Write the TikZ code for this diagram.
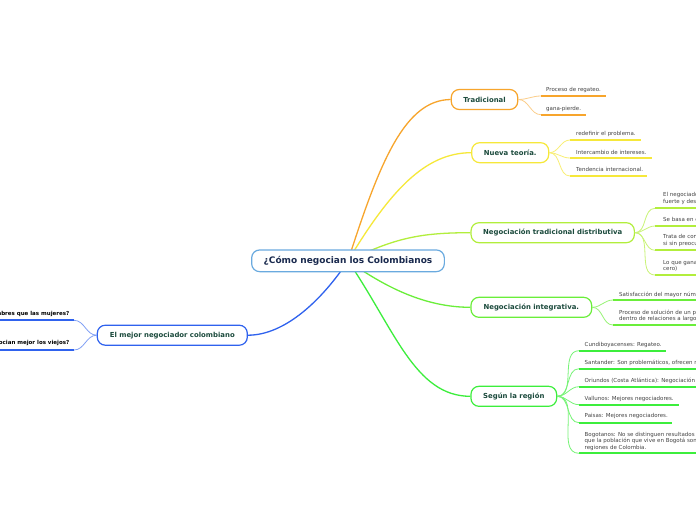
\documentclass[tikz,border=0pt]{standalone}
\usepackage{fontspec}
\setmainfont{DejaVu Sans}
\usetikzlibrary{backgrounds}
\definecolor{corange}{HTML}{F7A52C}
\definecolor{cyellow}{HTML}{F6E83A}
\definecolor{clime}{HTML}{B2EE3C}
\definecolor{cgreenA}{HTML}{6AEE3A}
\definecolor{cgreenB}{HTML}{3CEE3C}
\definecolor{cblue}{HTML}{2F62EE}
\definecolor{ccentral}{HTML}{6AAADF}
\definecolor{labelgreen}{HTML}{1B4A3C}
\definecolor{labelnavy}{HTML}{1A2A4E}
\definecolor{leafgray}{HTML}{444444}
\tikzset{
  central/.style={draw=ccentral, line width=1.2pt, rounded corners=8pt, fill=white,
    font=\bfseries\fontsize{9}{10}\selectfont, text=labelnavy, inner sep=0pt,
    minimum height=21.7pt},
  topic/.style={line width=1.2pt, rounded corners=8pt, fill=white,
    font=\bfseries\fontsize{6.9}{8}\selectfont, text=labelgreen, inner sep=0pt,
    minimum height=20pt},
  leaf/.style={font=\fontsize{5.5}{6.4}\selectfont, text=leafgray, inner sep=0pt, align=left},
  leftleaf/.style={font=\bfseries\fontsize{5.5}{6.4}\selectfont, text=black, inner sep=0pt, align=right},
  branch/.style={line width=1.3pt},
  twig/.style={line width=0.8pt},
  uline/.style={line width=1.7pt}
}
\begin{document}
\begin{tikzpicture}[x=1pt,y=-1pt]
\path[use as bounding box] (0,0) rectangle (696,520);
\clip (0,0) rectangle (696,520);

% main nodes
\node[central, minimum width=192.7pt] (c) at (348,260.8) {¿Cómo negocian los Colombianos};
\node[topic, draw=corange, minimum width=66.5pt] (t1) at (484.5,99.5) {Tradicional};
\node[topic, draw=cyellow, minimum width=77pt] (t2) at (510.2,152.7) {Nueva teoría.};
\node[topic, draw=clime, minimum width=163.3pt] (t3) at (552.7,232.7) {Negociación tradicional distributiva};
\node[topic, draw=cgreenA, minimum width=120.7pt] (t4) at (531.3,307.3) {Negociación integrativa.};
\node[topic, draw=cgreenB, minimum width=85.7pt] (t5) at (513.8,396.3) {Según la región};
\node[topic, draw=cblue, minimum width=150pt] (t6) at (172.3,335.2) {El mejor negociador colombiano};

\begin{pgfonlayer}{background}
\fill[white] (0,0) rectangle (696,520);
\draw[branch, corange] (c.center) .. controls (380,161) and (405,100) .. (t1.west);
\draw[branch, cyellow] (c.center) .. controls (390,191) and (425,152.7) .. (t2.west);
\draw[branch, clime] (c.center) .. controls (395,238) and (420,232.7) .. (t3.west);
\draw[branch, cgreenA] (c.center) .. controls (385,287) and (425,307.3) .. (t4.west);
\draw[branch, cgreenB] (c.center) .. controls (395,330) and (415,396.3) .. (t5.west);
\draw[branch, cblue] (c.center) .. controls (322,300) and (285,335.2) .. (t6.east);
\end{pgfonlayer}

% Tradicional
\coordinate (u11) at (541,96);
\coordinate (u12) at (541,114.7);
\node[leaf, anchor=west] (l11) at (546,90) {Proceso de regateo.};
\node[leaf, anchor=west] (l12) at (546,109) {gana-pierde.};
\draw[twig, corange!55] (t1.east) to[out=0,in=180] (u11);
\draw[twig, corange!55] (t1.east) to[out=0,in=180] (u12);
\draw[uline, corange] (u11) -- ++(64.7,0);
\draw[uline, corange] (u12) -- ++(45,0);

% Nueva teoria
\coordinate (u21) at (570,140);
\coordinate (u22) at (570,158);
\coordinate (u23) at (570,176);
\node[leaf, anchor=west] (l21) at (576,134) {redefinir el problema.};
\node[leaf, anchor=west] (l22) at (576,152) {Intercambio de intereses.};
\node[leaf, anchor=west] (l23) at (576,169.7) {Tendencia internacional.};
\foreach \u in {u21,u22,u23}{\draw[twig, cyellow!70] (t2.east) to[out=0,in=180] (\u);}
\draw[uline, cyellow] (u21) -- ++(70.7,0);
\draw[uline, cyellow] (u22) -- ++(82,0);
\draw[uline, cyellow] (u23) -- ++(77.3,0);

% Distributiva
\coordinate (u31) at (655,208.3);
\coordinate (u32) at (655,226);
\coordinate (u33) at (655,250.3);
\coordinate (u34) at (655,275);
\node[leaf, anchor=west] (l31) at (663,198.3) {El negociador\\fuerte y desconfiado};
\node[leaf, anchor=west] (l32) at (663,219.3) {Se basa en el};
\node[leaf, anchor=west] (l33) at (663,240.5) {Trata de conseguir\\si sin preocuparse};
\node[leaf, anchor=west] (l34) at (663,265.7) {Lo que gana uno\\cero)};
\foreach \u in {u31,u32,u33,u34}{\draw[twig, clime!70] (t3.east) to[out=0,in=180] (\u);
  \draw[uline, clime] (\u) -- ++(60,0);}

% Integrativa
\coordinate (u41) at (613,300);
\coordinate (u42) at (613,325);
\node[leaf, anchor=west] (l41) at (619,295) {Satisfacción del mayor número};
\node[leaf, anchor=west] (l42) at (619,316) {Proceso de solución de un problema\\dentro de relaciones a largo plazo};
\foreach \u in {u41,u42}{\draw[twig, cgreenA!70] (t4.east) to[out=0,in=180] (\u);
  \draw[uline, cgreenA] (\u) -- ++(100,0);}

% Region
\coordinate (u51) at (579,350.7);
\coordinate (u52) at (579,368.7);
\coordinate (u53) at (579,386.7);
\coordinate (u54) at (579,404.7);
\coordinate (u55) at (579,422.7);
\coordinate (u56) at (579,453.3);
\node[leaf, anchor=west] (l51) at (584.5,345) {Cundiboyacenses: Regateo.};
\node[leaf, anchor=west] (l52) at (584.5,363) {Santander: Son problemáticos, ofrecen resistencia};
\node[leaf, anchor=west] (l53) at (584.5,380.7) {Oriundos (Costa Atlántica): Negociación abierta};
\node[leaf, anchor=west] (l54) at (584.5,398.7) {Vallunos: Mejores negociadores.};
\node[leaf, anchor=west] (l55) at (584.5,416.3) {Paisas: Mejores negociadores.};
\node[leaf, anchor=west] (l56) at (584.5,441.2) {Bogotanos: No se distinguen resultados\\que la población que vive en Bogotá son\\regiones de Colombia.};
\foreach \u in {u51,u52,u53,u54,u55,u56}{\draw[twig, cgreenB!70] (t5.east) to[out=0,in=180] (\u);}
\draw[uline, cgreenB] (u51) -- ++(86.7,0);
\draw[uline, cgreenB] (u52) -- ++(130,0);
\draw[uline, cgreenB] (u53) -- ++(130,0);
\draw[uline, cgreenB] (u54) -- ++(100,0);
\draw[uline, cgreenB] (u55) -- ++(93.3,0);
\draw[uline, cgreenB] (u56) -- ++(130,0);

% El mejor negociador
\coordinate (u61) at (74,320.3);
\coordinate (u62) at (74,350);
\node[leftleaf, anchor=east] (l61) at (69.5,314) {¿Negocian mejor los hombres que las mujeres?};
\node[leftleaf, anchor=east] (l62) at (69.5,342.7) {¿Negocian mejor los viejos?};
\foreach \u in {u61,u62}{\draw[twig, cblue!60] (t6.west) to[out=180,in=0] (\u);
  \draw[uline, cblue] (\u) -- ++(-90,0);}
\end{tikzpicture}
\end{document}
